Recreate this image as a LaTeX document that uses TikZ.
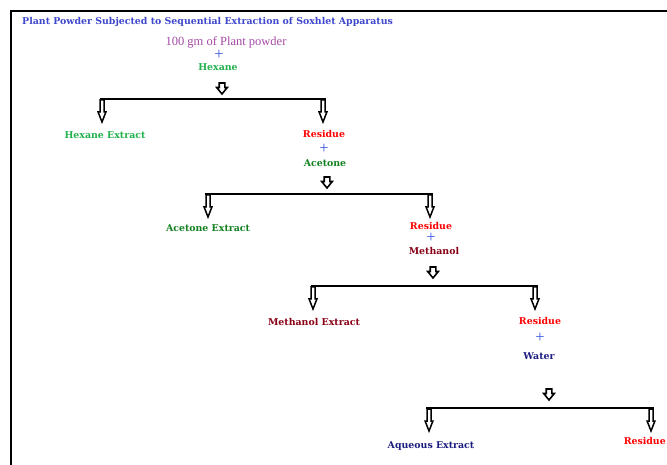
\documentclass[tikz,border=0pt]{standalone}
\usepackage{fontspec}
\setmainfont{DejaVu Serif}
\newfontfamily\tnr{Liberation Serif}
\definecolor{titleblue}{HTML}{3F48CC}
\definecolor{purp}{HTML}{A349A4}
\definecolor{plusblue}{HTML}{3F5AE0}
\definecolor{hexgreen}{HTML}{22B14C}
\definecolor{resred}{HTML}{FF0000}
\definecolor{acegreen}{HTML}{13801F}
\definecolor{methred}{HTML}{880015}
\definecolor{watblue}{HTML}{1C1C80}
\tikzset{
  lbl/.style={font=\fontsize{9.4}{11}\selectfont\bfseries, inner sep=0pt},
  plus/.style={text=plusblue, font=\tnr\fontsize{16.5}{16.5}\selectfont, inner sep=0pt, text height=8pt, text depth=0pt},
  bar/.style={line width=2.6pt},
  frame/.style={line width=2pt},
  sarrow/.pic={\draw[line width=1.6pt, fill=white, line join=miter]
     (-2.8,0) -- (2.8,0) -- (2.8,4.5) -- (5.3,4.5) -- (0,11) -- (-5.3,4.5) -- (-2.8,4.5) -- cycle;},
  larrow/.pic={\draw[line width=1.5pt, fill=white, line join=miter]
     (-2.0,0) -- (2.0,0) -- (2.0,12) -- (3.9,12) -- (0,22) -- (-3.9,12) -- (-2.0,12) -- cycle;}
}
\begin{document}
\begin{tikzpicture}[x=1pt,y=-1pt]
\useasboundingbox (0,0) rectangle (667,465);
\draw[frame] (11,465) -- (11,11) -- (667,11);
% title
\node[lbl, text=titleblue, anchor=west] (title) at (22,22) {Plant Powder Subjected to Sequential Extraction of Soxhlet Apparatus};
% level 0
\node[font=\tnr\fontsize{12.5}{14}\selectfont, text=purp, inner sep=0pt] (pp) at (226,42.5) {100 gm of Plant powder};
\node[plus] (p0) at (219,56) {+};
\node[lbl, text=hexgreen] (hex) at (218,67) {Hexane};
\pic (a0) at (222,83) {sarrow};
\coordinate (b0l) at (100,99); \coordinate (b0r) at (326,99);
\draw[bar] (b0l) -- (b0r);
\pic (a0l) at (102,100) {larrow};
\pic (a0r) at (323,100) {larrow};
\node[lbl, text=hexgreen] (hexex) at (105,135) {Hexane Extract};
\node[lbl, text=resred] (res1) at (324,134) {Residue};
\node[plus] (p1) at (324,150) {+};
\node[lbl, text=acegreen] (ace) at (325,163) {Acetone};
% level 1
\pic (a1) at (327,177) {sarrow};
\coordinate (b1l) at (205,194); \coordinate (b1r) at (433,194);
\draw[bar] (b1l) -- (b1r);
\pic (a1l) at (208,195) {larrow};
\pic (a1r) at (430,195) {larrow};
\node[lbl, text=acegreen] (aceex) at (208,228) {Acetone Extract};
\node[lbl, text=resred] (res2) at (431,226) {Residue};
\node[plus] (p2) at (431,239) {+};
\node[lbl, text=methred] (meth) at (434,251) {Methanol};
% level 2
\pic (a2) at (433,267) {sarrow};
\coordinate (b2l) at (311,286); \coordinate (b2r) at (538,286);
\draw[bar] (b2l) -- (b2r);
\pic (a2l) at (313,287) {larrow};
\pic (a2r) at (535,287) {larrow};
\node[lbl, text=methred] (methex) at (314,322) {Methanol Extract};
\node[lbl, text=resred] (res3) at (540,321) {Residue};
\node[plus] (p3) at (540,338) {+};
\node[lbl, text=watblue] (wat) at (539,356) {Water};
% level 3
\pic (a3) at (549,389) {sarrow};
\coordinate (b3l) at (426,408); \coordinate (b3r) at (654,408);
\draw[bar] (b3l) -- (b3r);
\pic (a3l) at (429,409) {larrow};
\pic (a3r) at (651,409) {larrow};
\node[lbl, text=watblue] (aqex) at (431,446) {Aqueous Extract};
\node[lbl, text=resred, anchor=east] (res4) at (666,441) {Residue};
\end{tikzpicture}
\end{document}
